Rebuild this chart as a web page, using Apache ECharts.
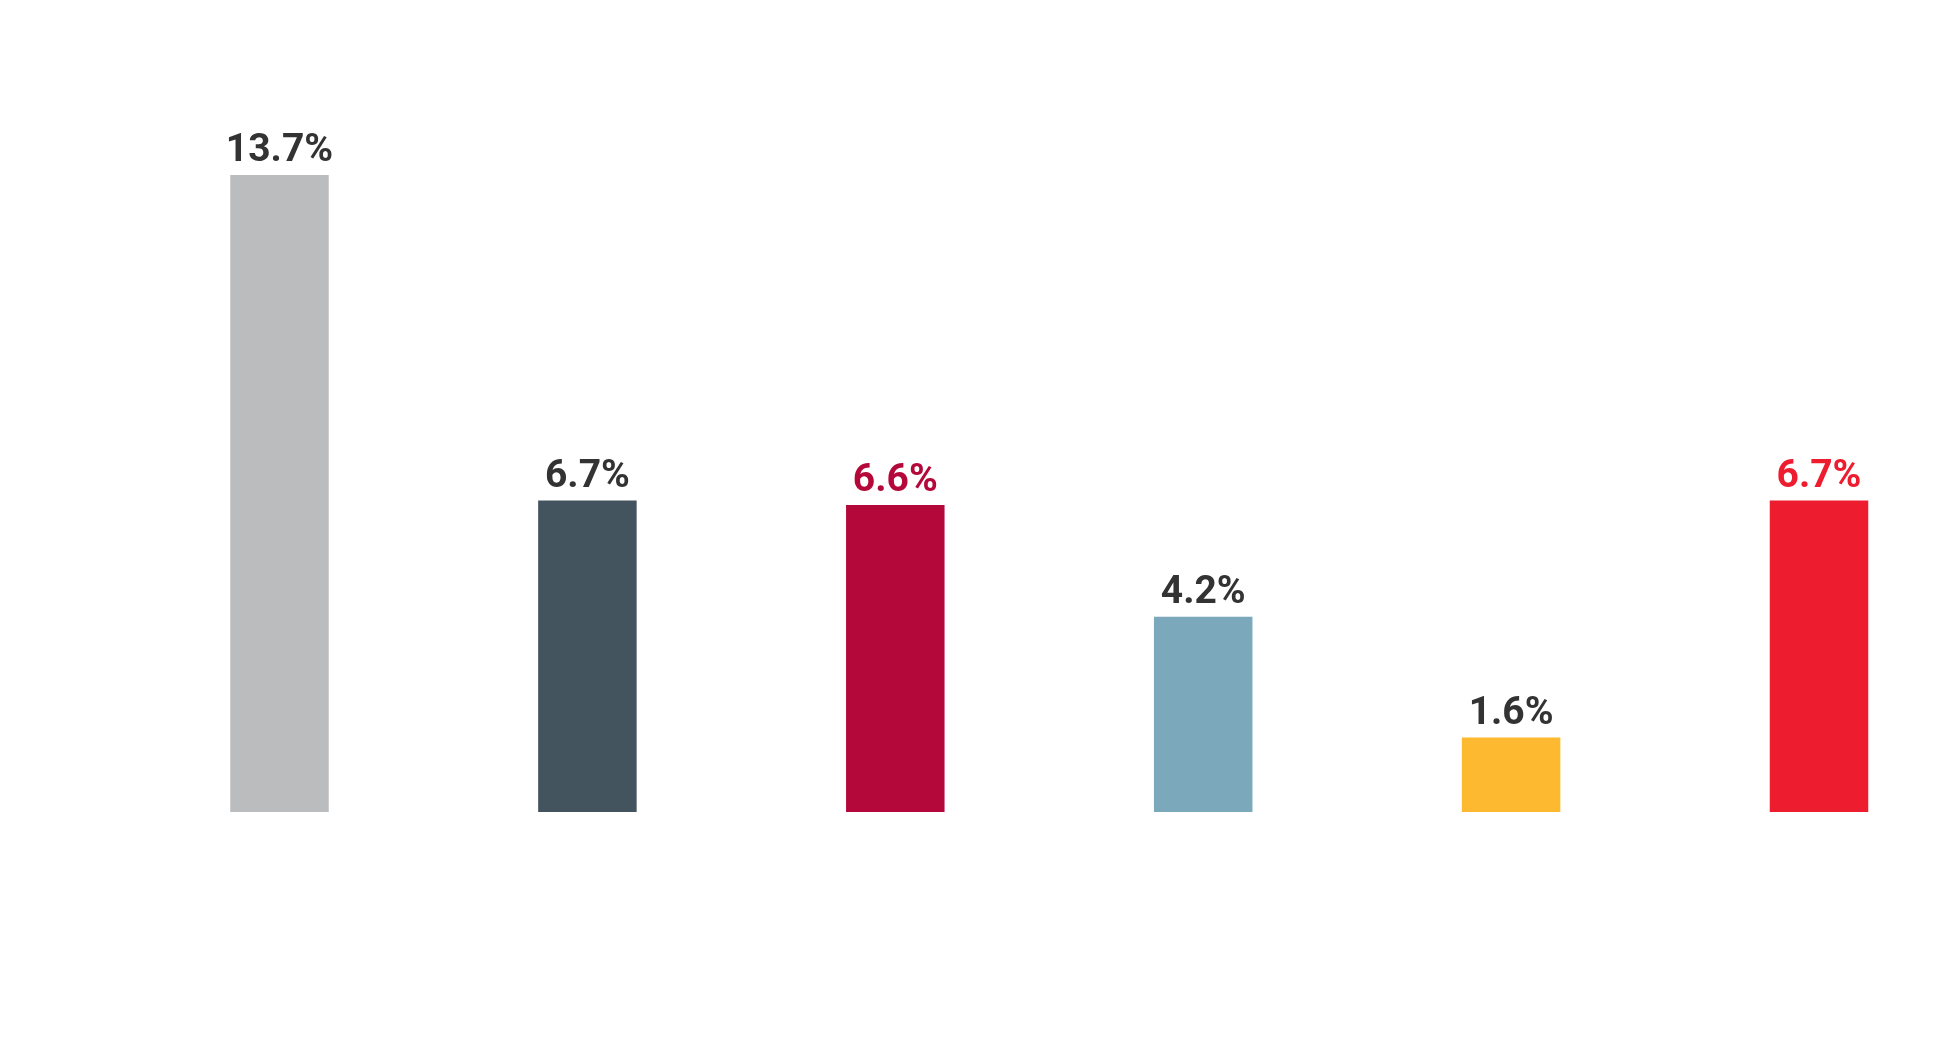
<!DOCTYPE html>
<html>
<head>
<meta charset="utf-8">
<script src="https://cdn.jsdelivr.net/npm/echarts@6/dist/echarts.min.js"></script>
<style>
html,body{margin:0;padding:0;background:#fff;}
#chart{width:1960px;height:1050px;}
</style>
</head>
<body>
<div id="chart"></div>
<script>
const categories = ['A', 'B', 'C', 'D', 'E', 'F'];
const values = [13.7, 6.7, 6.6, 4.2, 1.6, 6.7];
const barColors = ['#BBBCBE', '#43545F', '#B5083A', '#7BA9BB', '#FDB930', '#ED1C2E'];
const labelColors = ['#333333', '#333333', '#B5083A', '#333333', '#333333', '#ED1C2E'];

const chart = echarts.init(document.getElementById('chart'));
chart.setOption({
  backgroundColor: '#ffffff',
  animation: false,
  grid: { left: 279.5, right: 141, top: 161, height: 651 },
  xAxis: {
    type: 'category',
    data: categories,
    boundaryGap: false,
    axisLine: { show: false },
    axisTick: { show: false },
    axisLabel: { show: false },
    splitLine: { show: false }
  },
  yAxis: {
    type: 'value',
    min: 0,
    max: 14,
    show: false,
    splitLine: { show: false }
  },
  series: [{
    type: 'bar',
    barWidth: 98.5,
    clip: false,
    data: values.map((v, i) => ({
      value: v,
      itemStyle: { color: barColors[i] },
      label: { color: labelColors[i] }
    })),
    label: {
      show: true,
      position: 'top',
      distance: 4,
      fontFamily: 'Roboto',
      fontWeight: 'bold',
      fontSize: 39,
      formatter: p => p.value.toFixed(1) + '%'
    }
  }]
});
</script>
</body>
</html>
